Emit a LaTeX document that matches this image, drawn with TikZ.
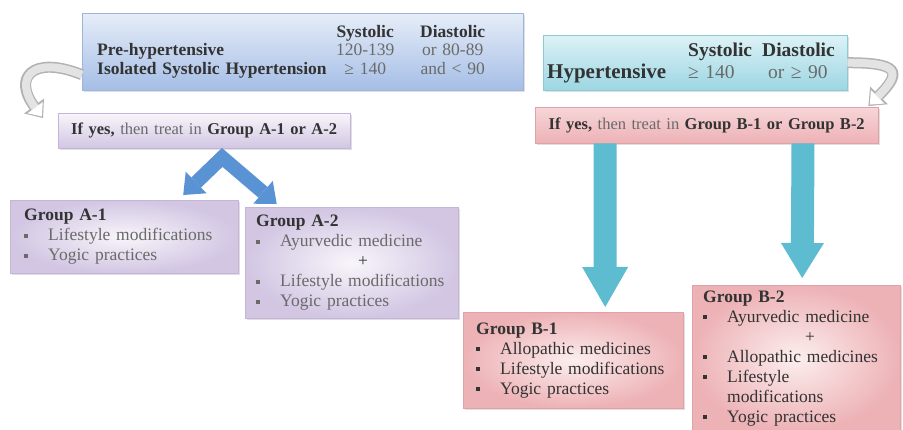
\documentclass[tikz,border=0pt]{standalone}
\usepackage{fontspec}
\setmainfont{Liberation Serif}
\usetikzlibrary{arrows.meta, positioning, calc, shadows}
\definecolor{bpBlueTop}{HTML}{E6EDF8}
\definecolor{bpBlueBot}{HTML}{A5BEE6}
\definecolor{bpBlueEdge}{HTML}{9DB4DC}
\definecolor{bpCyanTop}{HTML}{DDF2F6}
\definecolor{bpCyanBot}{HTML}{9CD6E3}
\definecolor{bpCyanEdge}{HTML}{8CCAD8}
\definecolor{bpLavIn}{HTML}{F8F5FA}
\definecolor{bpLavOut}{HTML}{D2C6E3}
\definecolor{bpLavEdge}{HTML}{C4B6DA}
\definecolor{bpPinkIn}{HTML}{FCEEEE}
\definecolor{bpPinkOut}{HTML}{EDB2B6}
\definecolor{bpPinkEdge}{HTML}{E0A2A7}
\definecolor{bpBlueArr}{HTML}{5A93D4}
\definecolor{bpCyanArr}{HTML}{5DBCD0}
\definecolor{bpText}{HTML}{333333}
\definecolor{bpSoft}{HTML}{6A6A6A}

\newcommand{\bpitem}[1]{\makebox[24pt][l]{\rule[3pt]{4pt}{4pt}}#1}
\newcommand{\bpplus}{\hspace*{102pt}+}
\newcommand{\bprow}[3]{\makebox[238pt][l]{#1}\makebox[60pt][c]{#2}\hspace{25pt}\makebox[65pt][c]{#3}}

\begin{document}
\begin{tikzpicture}[x=1pt, y=-1pt,
  box/.style={anchor=north west, align=left, inner ysep=4pt, text=bpText,
              font=\fontsize{17.5}{20}\selectfont,
              drop shadow={opacity=0.25, shadow xshift=2pt, shadow yshift=-2pt}},
  bluebox/.style={box, draw=bpBlueEdge, top color=bpBlueTop, bottom color=bpBlueBot},
  cyanbox/.style={box, draw=bpCyanEdge, top color=bpCyanTop, bottom color=bpCyanBot},
  lavbar/.style={box, draw=bpLavEdge, top color=bpLavIn, bottom color=bpLavOut,
                 font=\fontsize{16.5}{20}\selectfont},
  pinkbar/.style={box, draw=bpPinkEdge, top color=bpPinkIn!60!bpPinkOut, bottom color=bpPinkOut,
                  font=\fontsize{16.5}{20}\selectfont},
  lavbox/.style={box, draw=bpLavEdge, inner color=bpLavIn, outer color=bpLavOut},
  pinkbox/.style={box, draw=bpPinkEdge, inner color=bpPinkIn, outer color=bpPinkOut},
  downarr/.style={line width=23pt, draw=bpCyanArr,
                  -{Triangle[length=40pt, width=46pt, line width=0pt]}},
  chevarr/.style={line width=14pt, draw=bpBlueArr, line join=miter,
                  {Triangle[length=18pt, width=30pt, line width=0pt]}-{Triangle[length=18pt, width=30pt, line width=0pt]}},
  bendout/.style={line width=11pt, draw=gray!60,
                  -{Triangle[length=15pt, width=25pt, line width=0pt]}},
  bendin/.style={line width=8pt, draw=gray!22, shorten >=2pt,
                 -{Triangle[length=11pt, width=19pt, line width=0pt, fill=white]}},
]
\useasboundingbox[fill=white] (0,0) rectangle (903,429);

% criteria boxes
\node[bluebox, minimum width=441pt, minimum height=77pt, text width=411pt, inner xsep=15pt,
      font=\fontsize{17.5}{18.5}\selectfont] (prehyp) at (82,13)
  {\bprow{}{\textbf{Systolic}}{\textbf{Diastolic}}\\
   \bprow{\textbf{Pre-hypertensive}}{\textcolor{bpSoft}{120-139}}{\textcolor{bpSoft}{or 80-89}}\\
   \bprow{\textbf{Isolated Systolic Hypertension}}{\textcolor{bpSoft}{≥ 140}}{\textcolor{bpSoft}{and < 90}}};
\node[cyanbox, minimum width=304pt, minimum height=55pt, text width=296pt, inner xsep=4pt,
      font=\fontsize{19.5}{22}\selectfont] (hyp) at (543,35)
  {\makebox[141pt][l]{}\makebox[74pt][l]{\textbf{Systolic}}\textbf{Diastolic}\\
   \makebox[141pt][l]{\fontsize{21}{22}\selectfont\textbf{Hypertensive}}\makebox[80pt][l]{\textcolor{bpSoft}{≥ 140}}\textcolor{bpSoft}{or ≥ 90}};

% decision bars
\node[lavbar, minimum width=292pt, minimum height=35pt, text width=284pt, inner xsep=4pt, align=center] (ayes) at (58,113)
  {\textbf{If yes,} \textcolor{bpSoft}{then treat in} \textbf{Group A-1 or A-2}};
\node[pinkbar, minimum width=343pt, minimum height=36pt, text width=335pt, inner xsep=4pt, align=center] (byes) at (535,107)
  {\textbf{If yes,} \textcolor{bpSoft}{then treat in} \textbf{Group B-1 or Group B-2}};

% treatment groups
\node[lavbox, minimum width=228pt, minimum height=73pt, text width=200pt, inner xsep=14pt] (grpa1) at (10,200)
  {\textbf{Group A-1}\\
   \textcolor{bpSoft}{\bpitem{Lifestyle modifications}}\\
   \textcolor{bpSoft}{\bpitem{Yogic practices}}};
\node[lavbox, minimum width=213pt, minimum height=111pt, text width=191pt, inner xsep=11pt] (grpa2) at (245,207)
  {\textbf{Group A-2}\\
   \textcolor{bpSoft}{\bpitem{Ayurvedic medicine}}\\
   \bpplus\\
   \textcolor{bpSoft}{\bpitem{Lifestyle modifications}}\\
   \textcolor{bpSoft}{\bpitem{Yogic practices}}};
\node[pinkbox, minimum width=220pt, minimum height=96pt, text width=194pt, inner xsep=13pt] (grpb1) at (463,312)
  {\textbf{Group B-1}\\
   \bpitem{Allopathic medicines}\\
   \bpitem{Lifestyle modifications}\\
   \bpitem{Yogic practices}};
\node[pinkbox, minimum width=208pt, minimum height=146pt, text width=186pt, inner xsep=11pt] (grpb2) at (692,285)
  {\textbf{Group B-2}\\
   \bpitem{Ayurvedic medicine}\\
   \bpplus\\
   \bpitem{Allopathic medicines}\\
   \bpitem{Lifestyle}\\
   \hspace*{24pt}modifications\\
   \bpitem{Yogic practices}};

% arrow ends
\coordinate (bendA) at ([xshift=-15pt, yshift=-5pt]ayes.north west);
\coordinate (bendB) at ([xshift=-10pt, yshift=1pt]byes.north east);
\coordinate (apex) at ([xshift=18pt, yshift=-9pt]ayes.south);
\coordinate (tipa1) at ([xshift=59pt, yshift=5pt]grpa1.north);
\coordinate (tipa2) at ([xshift=-75pt, yshift=3pt]grpa2.north);
\coordinate (fromb1) at ([xshift=70pt]byes.south west);
\coordinate (fromb2) at ([xshift=268pt]byes.south west);
\coordinate (tipb1) at ([xshift=32pt, yshift=5pt]grpb1.north);
\coordinate (tipb2) at ([xshift=6pt, yshift=7pt]grpb2.north);

% curved arrows
\draw[bendout] ([yshift=-23pt]prehyp.west) .. controls +(-50,-20) and +(-30,-40) .. (bendA);
\draw[bendin] ([yshift=-23pt]prehyp.west) .. controls +(-50,-20) and +(-30,-40) .. (bendA);
\draw[bendout] (hyp.east) .. controls +(50,0) and +(35,-35) .. (bendB);
\draw[bendin] (hyp.east) .. controls +(50,0) and +(35,-35) .. (bendB);

% block arrows
\draw[chevarr] (tipa1) -- (apex) -- (tipa2);
\draw[downarr] (fromb1) -- (tipb1);
\draw[downarr, -{Triangle[length=35pt, width=43pt, line width=0pt]}] (fromb2) -- (tipb2);
\end{tikzpicture}
\end{document}
